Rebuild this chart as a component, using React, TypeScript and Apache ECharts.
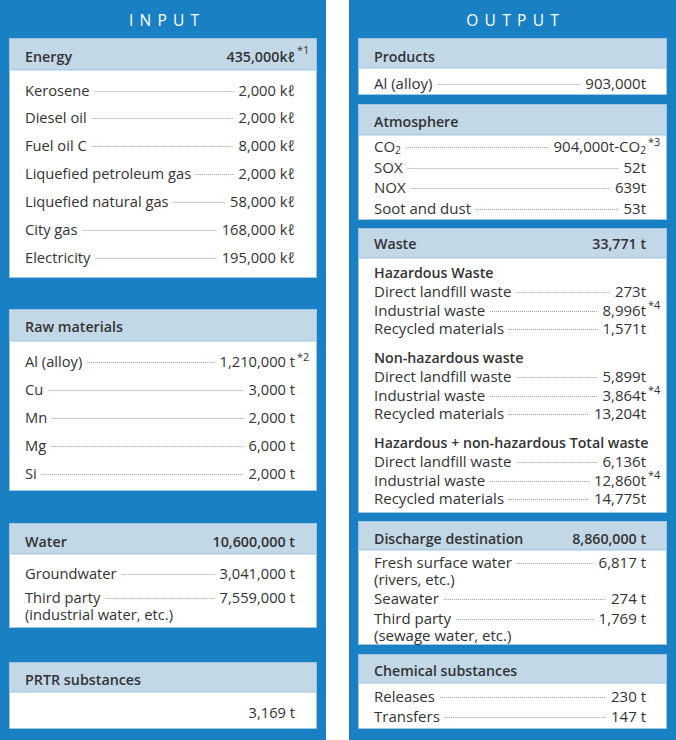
import React, { useEffect, useRef } from "react";
import * as echarts from "echarts";

const W = 676;
const H = 740;
const FONT = "'Open Sans', 'Noto Sans', 'DejaVu Sans', sans-serif";
const BLUE = "#1a80c4";
const HEAD = "#c2d8e7";
const EDGE = "#9fc6e3";
const INK = "#333333";
const DOT = "#9a9a9a";

// ---------- INPUT ----------
const inputTitle = "INPUT";

const energyTitle = "Energy";
const energyTotal = 435000;
const energyUnit = "kℓ";
const energyNote = "*1";
const energyItems = ["Kerosene", "Diesel oil", "Fuel oil C", "Liquefied petroleum gas", "Liquefied natural gas", "City gas", "Electricity"];
const energyValues = [2000, 2000, 8000, 2000, 58000, 168000, 195000];

const rawTitle = "Raw materials";
const rawItems = ["Al (alloy)", "Cu", "Mn", "Mg", "Si"];
const rawValues = [1210000, 3000, 2000, 6000, 2000];
const rawNotes = ["*2", "", "", "", ""];

const waterTitle = "Water";
const waterTotal = 10600000;
const waterItems = ["Groundwater", "Third party\n(industrial water, etc.)"];
const waterValues = [3041000, 7559000];

const prtrTitle = "PRTR substances";
const prtrValue = 3169;

// ---------- OUTPUT ----------
const outputTitle = "OUTPUT";

const productTitle = "Products";
const productItems = ["Al (alloy)"];
const productValues = [903000];

const atmoTitle = "Atmosphere";
const atmoItems = ["CO2", "SOX", "NOX", "Soot and dust"];
const atmoValues = [904000, 52, 639, 53];
const atmoUnits = ["t-CO2", "t", "t", "t"];
const atmoNotes = ["*3", "", "", ""];

const wasteTitle = "Waste";
const wasteTotal = 33771;
const wasteGroups = ["Hazardous Waste", "Non-hazardous waste", "Hazardous + non-hazardous Total waste"];
const wasteItems = ["Direct landfill waste", "Industrial waste", "Recycled materials"];
const wasteHazardous = [273, 8996, 1571];
const wasteNonHazardous = [5899, 3864, 13204];
const wasteTotals = [6136, 12860, 14775];
const wasteNotes = ["", "*4", ""];

const dischargeTitle = "Discharge destination";
const dischargeTotal = 8860000;
const dischargeItems = ["Fresh surface water\n(rivers, etc.)", "Seawater", "Third party\n(sewage water, etc.)"];
const dischargeValues = [6817, 274, 1769];

const chemTitle = "Chemical substances";
const chemItems = ["Releases", "Transfers"];
const chemValues = [230, 147];

// ---------- helpers ----------
const fmt = (n: number) => n.toLocaleString("en-US");

let mctx: CanvasRenderingContext2D | null = null;
function measure(s: string, size: number, weight: string | number) {
  if (!mctx) mctx = document.createElement("canvas").getContext("2d");
  mctx!.font = `${weight} ${size}px ${FONT}`;
  return mctx!.measureText(s).width;
}

type Col = { x: number; w: number; lx: number; vr: number; size: number; bsize: number; gap2: number };
const BOLD = 600;

function build() {
  const els: any[] = [];
  const rect = (x: number, y: number, w: number, h: number, fill: string, stroke?: string) =>
    els.push({
      type: "rect",
      silent: true,
      shape: { x, y, width: w, height: h },
      style: stroke ? { fill, stroke, lineWidth: 1 } : { fill },
    });
  const text = (x: number, y: number, s: string, size: number, weight: string | number, align: string, fill = INK) =>
    els.push({
      type: "text",
      silent: true,
      x,
      y,
      style: {
        text: s,
        fill,
        fontSize: size,
        fontFamily: FONT,
        fontWeight: weight,
        align,
        verticalAlign: "middle",
        textAlign: align,
        textVerticalAlign: "middle",
      },
    });
  const leader = (x1: number, x2: number, y: number) => {
    if (x2 - x1 < 4) return;
    const yy = Math.round(y) + 0.5;
    els.push({
      type: "line",
      silent: true,
      shape: { x1, y1: yy, x2, y2: yy },
      style: { stroke: DOT, lineWidth: 1, lineDash: [1, 1] },
    });
  };

  // inline text with CO2 subscripts
  const inline = (x: number, y: number, s: string, size: number, weight: string | number, align: "left" | "right") => {
    const parts = s.split(/(CO2)/).filter((p) => p);
    const segs: { t: string; sub: boolean }[] = [];
    parts.forEach((p) => {
      if (p === "CO2") segs.push({ t: "CO", sub: false }, { t: "2", sub: true });
      else segs.push({ t: p, sub: false });
    });
    const subSize = size * 0.68;
    const ws = segs.map((g) => measure(g.t, g.sub ? subSize : size, weight));
    const total = ws.reduce((a, b) => a + b, 0);
    let cx = align === "right" ? x - total : x;
    const start = cx;
    segs.forEach((g, i) => {
      text(cx, g.sub ? y + size * 0.25 : y, g.t, g.sub ? subSize : size, weight, "left");
      cx += ws[i];
    });
    return { start, end: start + total };
  };

  const spaced = (s: string, cx: number, y: number, size: number, tracking: number) => {
    const ws = s.split("").map((c) => measure(c, size, 500));
    const total = ws.reduce((a, b) => a + b, 0) + tracking * (s.length - 1);
    let x = cx - total / 2;
    s.split("").forEach((c, i) => {
      text(x, y, c, size, 500, "left", "#ffffff");
      x += ws[i] + tracking;
    });
  };

  const box = (c: Col, top: number, headBottom: number, bottom: number) => {
    rect(c.x + 0.5, top + 0.5, c.w - 1, bottom - top - 1, "#ffffff", EDGE);
    rect(c.x + 0.5, top + 0.5, c.w - 1, headBottom - top - 0.5, HEAD, EDGE);
  };

  const header = (c: Col, y: number, title: string, value?: string, note?: string) => {
    text(c.lx, y, title, c.bsize, BOLD, "left");
    if (value) {
      const v = inline(c.vr, y, value, c.bsize, BOLD, "right");
      if (note) text(v.end + 2, y - 7, note, 11, "normal", "left");
    }
  };

  const row = (c: Col, y: number, label: string, value: string, note?: string) => {
    const lines = label.split("\n");
    const l = inline(c.lx, y, lines[0], c.size, "normal", "left");
    for (let i = 1; i < lines.length; i++) inline(c.lx, y + c.gap2 * i, lines[i], c.size, "normal", "left");
    const v = inline(c.vr, y, value, c.size, "normal", "right");
    leader(l.end + 5, v.start - 5, y + 1);
    if (note) text(v.end + 2, y - 5, note, 11, "normal", "left");
  };

  // panels
  rect(0, 0, 326, H, BLUE);
  rect(349, 0, W - 349, H, BLUE);
  spaced(inputTitle, 164, 19.5, 15.5, 6.2);
  spaced(outputTitle, 512.5, 19.5, 15.5, 6.3);

  const L: Col = { x: 9, w: 308, lx: 25, vr: 295, size: 14.7, bsize: 14.3, gap2: 17 };
  const R: Col = { x: 358, w: 309, lx: 374, vr: 646, size: 15, bsize: 14.2, gap2: 16.5 };

  // ---- INPUT ----
  box(L, 38, 70, 278);
  header(L, 56.5, energyTitle, fmt(energyTotal) + energyUnit, energyNote);
  energyItems.forEach((it, i) => row(L, 89.5 + 27.95 * i, it, fmt(energyValues[i]) + " " + energyUnit));

  box(L, 309, 341, 491);
  header(L, 326.5, rawTitle);
  rawItems.forEach((it, i) => row(L, 361 + 28 * i, it, fmt(rawValues[i]) + " t", rawNotes[i]));

  box(L, 523, 554, 628);
  header(L, 541, waterTitle, fmt(waterTotal) + " t");
  waterItems.forEach((it, i) => row(L, 573 + 24 * i, it, fmt(waterValues[i]) + " t"));

  box(L, 662, 692, 729);
  header(L, 679, prtrTitle);
  inline(L.vr, 712, fmt(prtrValue) + " t", L.size, "normal", "right");

  // ---- OUTPUT ----
  box(R, 38, 68, 95);
  header(R, 56, productTitle);
  productItems.forEach((it, i) => row(R, 83, it, fmt(productValues[i]) + "t"));

  box(R, 104, 135, 220);
  header(R, 121, atmoTitle);
  atmoItems.forEach((it, i) => row(R, 146 + 20.5 * i, it, fmt(atmoValues[i]) + atmoUnits[i], atmoNotes[i]));

  box(R, 228, 258, 513);
  header(R, 243, wasteTitle, fmt(wasteTotal) + " t");
  const groupVals = [wasteHazardous, wasteNonHazardous, wasteTotals];
  wasteGroups.forEach((g, gi) => {
    const gy = 272 + 85 * gi;
    text(R.lx, gy, g, R.bsize, BOLD, "left");
    wasteItems.forEach((it, i) => row(R, gy + 19 + 18.7 * i, it, fmt(groupVals[gi][i]) + "t", wasteNotes[i]));
  });

  box(R, 521, 550, 645);
  header(R, 538, dischargeTitle, fmt(dischargeTotal) + " t");
  const dy = [562, 598, 618];
  dischargeItems.forEach((it, i) => row(R, dy[i], it, fmt(dischargeValues[i]) + " t"));

  box(R, 654, 683, 729);
  header(R, 670, chemTitle);
  chemItems.forEach((it, i) => row(R, 696 + 20 * i, it, fmt(chemValues[i]) + " t"));

  return els;
}

export default function App() {
  const ref = useRef<HTMLDivElement>(null);
  useEffect(() => {
    document.body.style.margin = "0";
    const chart = echarts.init(ref.current!, null, { renderer: "svg", width: W, height: H });
    chart.setOption({ animation: false, graphic: { elements: build() } });
    return () => chart.dispose();
  }, []);
  return <div ref={ref} style={{ position: "absolute", left: 0, top: 0, width: W, height: H }} />;
}
